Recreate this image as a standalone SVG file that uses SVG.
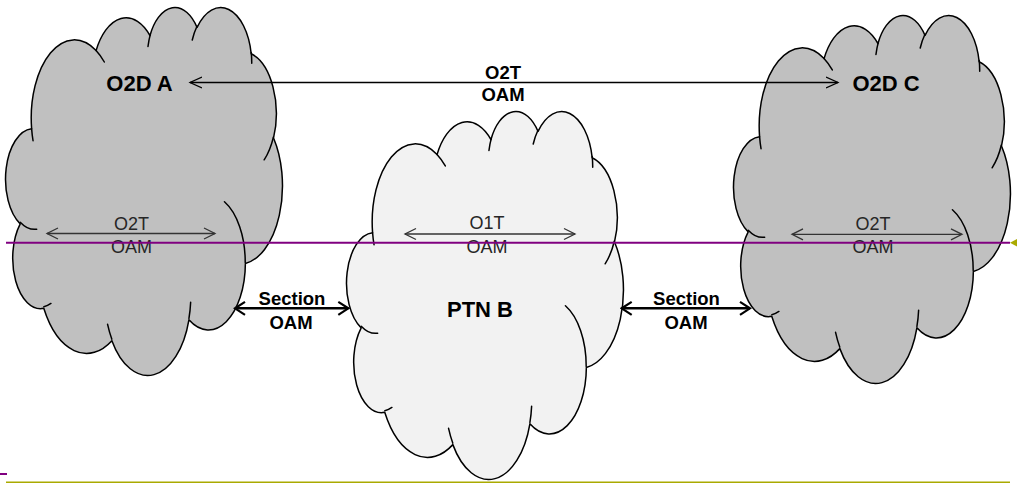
<svg xmlns="http://www.w3.org/2000/svg" width="1017" height="483" viewBox="0 0 1017 483">
<style>
.cloud{stroke:#000;stroke-width:1.5;stroke-linejoin:round}
.dark{fill:#c0c0c0}
.light{fill:#f2f2f2}
.fold{fill:none;stroke:#000;stroke-width:1.5;stroke-linecap:round}
.node-label{font-family:"Liberation Sans",Arial,Helvetica,sans-serif;font-weight:bold;font-size:22px;fill:#000;text-anchor:middle}
.edge-label{font-family:"Liberation Sans",Arial,Helvetica,sans-serif;font-weight:bold;font-size:18.5px;fill:#000;text-anchor:middle}
.oam-label{font-family:"Liberation Sans",Arial,Helvetica,sans-serif;font-size:18px;fill:#262626;text-anchor:middle}
.thin{fill:none;stroke:#333;stroke-width:1.3;marker-start:url(#chev-gray);marker-end:url(#chev-gray)}
.top{fill:none;stroke:#000;stroke-width:1.3;marker-start:url(#chev-black);marker-end:url(#chev-black)}
.bold{fill:none;stroke:#000;stroke-width:2.5;marker-start:url(#chev-bold);marker-end:url(#chev-bold)}
</style>
<defs>
<marker id="chev-gray" viewBox="0 0 14 14" markerWidth="14" markerHeight="14" refX="12" refY="7" orient="auto-start-reverse" markerUnits="userSpaceOnUse"><path d="M1,1.5 L12,7 L1,12.5" fill="none" stroke="#333" stroke-width="1.3"/></marker>
<marker id="chev-black" viewBox="0 0 14 14" markerWidth="14" markerHeight="14" refX="12" refY="7" orient="auto-start-reverse" markerUnits="userSpaceOnUse"><path d="M0,1.5 L12,7 L0,12.5" fill="none" stroke="#000" stroke-width="1.3"/></marker>
<marker id="chev-bold" viewBox="0 0 14 16" markerWidth="14" markerHeight="16" refX="12" refY="8" orient="auto-start-reverse" markerUnits="userSpaceOnUse"><path d="M2,1.5 L12,8 L2,14.5" fill="none" stroke="#000" stroke-width="2.2"/></marker>
<path id="cloud-outline" d="M24.88 122.36 A43.08 78.25 0 0 1 89.36 44.30 A34.02 61.88 0 0 1 143.27 29.22 A27.85 50.62 0 0 1 190.34 21.12 A30.99 56.16 0 0 1 244.48 47.47 A34.02 61.93 0 0 1 266.81 131.63 A43.22 78.51 0 0 1 238.65 257.17 A36.91 66.99 0 0 1 182.19 313.46 A43.08 78.47 0 0 1 105.15 334.33 A49.25 89.77 0 0 1 37.04 302.03 A27.82 50.39 0 0 1 13.48 217.56 A27.72 50.62 0 0 1 24.88 122.36 Z"/>
<path id="cloud-folds" d="M29.94 222.90 A27.72 50.62 0 0 1 13.78 216.11 M44.20 297.17 A27.82 50.39 0 0 1 37.13 300.41 M105.13 332.85 A43.08 78.47 0 0 1 100.87 318.03 M183.92 295.91 A43.08 78.47 0 0 1 182.22 312.16 M217.74 195.45 A36.91 66.99 0 0 1 238.49 256.21 M266.67 130.74 A34.02 61.93 0 0 1 257.43 153.52 M244.51 46.20 A30.99 56.16 0 0 1 245.00 56.96 M185.52 33.65 A30.99 56.16 0 0 1 190.25 19.93 M141.26 40.19 A27.85 50.62 0 0 1 143.55 28.36 M89.32 44.21 A43.08 78.25 0 0 1 97.61 55.69 M26.33 134.44 A43.08 78.25 0 0 1 24.88 122.36"/>
</defs>

<g id="node-o2d-a">
<use href="#cloud-outline" class="cloud dark" transform="translate(6.73 6.31)"/>
<use href="#cloud-folds" class="fold" transform="translate(6.73 6.31)"/>
<text class="node-label" x="139.5" y="91">O2D A</text>
</g>

<g id="node-ptn-b">
<use href="#cloud-outline" class="cloud light" transform="translate(347.7 110.3)"/>
<use href="#cloud-folds" class="fold" transform="translate(347.7 110.3)"/>
<text class="node-label" x="480" y="317">PTN B</text>
</g>

<g id="node-o2d-c">
<use href="#cloud-outline" class="cloud dark" transform="translate(734.7 14.3)"/>
<use href="#cloud-folds" class="fold" transform="translate(734.7 14.3)"/>
<text class="node-label" x="886" y="90.5">O2D C</text>
</g>

<g id="connectors">
<line class="top" x1="190" y1="82.5" x2="838" y2="82.5"/>
<text class="edge-label" x="503" y="79">O2T</text>
<text class="edge-label" x="503" y="100.5">OAM</text>

<line class="thin" x1="47" y1="233.5" x2="215" y2="233.5"/>
<text class="oam-label" x="131.5" y="230">O2T</text>
<text class="oam-label" x="131.5" y="253">OAM</text>

<line class="thin" x1="405" y1="234" x2="575" y2="234"/>
<text class="oam-label" x="487" y="228.5">O1T</text>
<text class="oam-label" x="487" y="253">OAM</text>

<line class="thin" x1="792" y1="234.3" x2="962" y2="234.3"/>
<text class="oam-label" x="873" y="230">O2T</text>
<text class="oam-label" x="873" y="253">OAM</text>

<line class="bold" x1="235" y1="308.3" x2="348.3" y2="308.3"/>
<text class="edge-label" x="292" y="305">Section</text>
<text class="edge-label" x="291" y="329">OAM</text>

<line class="bold" x1="621.7" y1="308.3" x2="750" y2="308.3"/>
<text class="edge-label" x="686.5" y="305">Section</text>
<text class="edge-label" x="686" y="329">OAM</text>
</g>

<g id="guides">
<line x1="6" y1="242.8" x2="1010" y2="242.8" stroke="#800080" stroke-width="2"/>
<polygon points="1010,242.8 1017,239 1017,246.6" fill="#aaaa00"/>
<line x1="0" y1="474" x2="7" y2="474" stroke="#800080" stroke-width="2"/>
<line x1="6" y1="482.2" x2="1010" y2="482.2" stroke="#aaaa00" stroke-width="1.5"/>
</g>
</svg>
